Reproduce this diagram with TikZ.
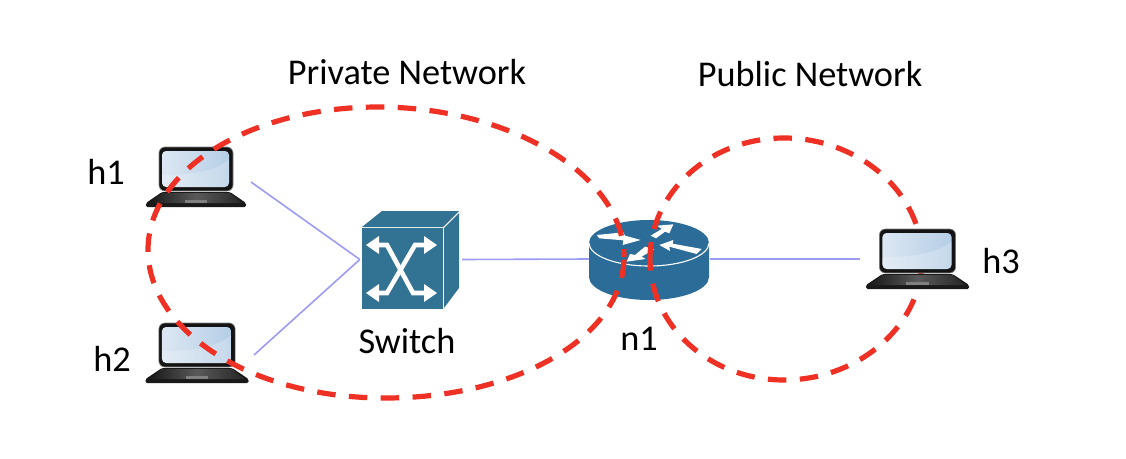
\documentclass[tikz,border=0pt]{standalone}
\usepackage{fontspec}
\setmainfont{Carlito}
\begin{document}
\begin{tikzpicture}[x=1pt,y=-1pt,
  netlabel/.style={font=\fontsize{36.3}{40}\selectfont,text=black,inner sep=0pt},
  link/.style={draw=linkblue,line width=1.6pt},
  ring/.style={draw=ringred,line width=5.2pt,dash pattern=on 18.5pt off 13.4pt},
  device/.style={inner sep=0pt,draw=none},
  switchfill/.style={fill=switchblue,draw=none},
  routerfill/.style={fill=routerblue,draw=none},
  whitefill/.style={fill=white,draw=none},
  laptop/.pic={
    \fill[black!90,rounded corners=1.5pt] (34,45) -- (-34,45) -- (-50,56) -- (-50,60) -- (50,60) -- (50,56) -- cycle;
    \shade[left color=black!90,right color=black!85,middle color=black!65] (-34,46) -- (34,46) -- (46,56) -- (-46,56) -- cycle;
    \fill[black!50] (-11,53) rectangle (11,56);
    \fill[black!92,rounded corners=6pt] (-37,0) rectangle (37,44);
    \draw[black!50,line width=.6pt,rounded corners=6pt] (-37,0) rectangle (37,44);
    \shade[left color=screenL,right color=screenR,rounded corners=4pt] (-34,4) rectangle (33,40);
    \fill[white,opacity=.22,rounded corners=2pt] (-34,28) .. controls (-5,28) and (20,24) .. (33,12) -- (33,37) -- (30,40) -- (-31,40) -- (-34,37) -- cycle;
  }]
\definecolor{linkblue}{HTML}{9C9CF5}
\definecolor{ringred}{HTML}{EE3124}
\definecolor{switchblue}{HTML}{327394}
\definecolor{routerblue}{HTML}{2B6C98}
\definecolor{screenL}{HTML}{DCE7F3}
\definecolor{screenR}{HTML}{B5CEE6}
\useasboundingbox (0,0) rectangle (1126,458);
\fill[white] (0,0) rectangle (1126,458);

% anchors of the devices
\node[device,minimum width=100pt,minimum height=60pt] (h1) at (196,177) {};
\node[device,minimum width=102pt,minimum height=60pt] (h2) at (197,354) {};
\node[device,minimum width=109pt,minimum height=62pt] (h3) at (914.5,259) {};
\node[device,minimum width=102pt,minimum height=100pt] (switch) at (411,259.5) {};
\node[device,minimum width=121pt,minimum height=80pt] (router) at (649.5,259) {};
\coordinate (h1port) at (251,182);
\coordinate (h2port) at (254,355);

% connectors
\draw[link] (h1port) -- (switch.west);
\draw[link] (h2port) -- (switch.west);
\draw[link] (switch.east) -- (router.west);
\draw[link] (router.east) -- (h3.west);

% switch
\fill[switchfill] (362,227) -- (382,211) -- (459,211) -- (443,227) -- cycle;
\fill[switchfill] (444,228) -- (459,213) -- (459,288) -- (444,308) -- cycle;
\fill[switchfill] (362,228) rectangle (443,309);
\draw[white,line width=4.6pt] (372,245) -- (387,245) -- (413,293) -- (425,293);
\draw[white,line width=4.6pt] (372,293) -- (387,293) -- (415,245) -- (425,245);
\fill[whitefill] (366,245) -- (379,236) -- (379,254) -- cycle;
\fill[whitefill] (366,293) -- (379,284) -- (379,302) -- cycle;
\fill[whitefill] (437,245) -- (424,236) -- (424,254) -- cycle;
\fill[whitefill] (437,293) -- (424,284) -- (424,302) -- cycle;

% router
\fill[routerfill] (589,243) -- (589,277) arc[start angle=180,end angle=360,x radius=60pt,y radius=23pt] -- (709,243) arc[start angle=0,end angle=180,x radius=60pt,y radius=23pt] -- cycle;
\draw[white,line width=1.1pt] (589,243) arc[start angle=180,end angle=360,x radius=60pt,y radius=23pt];
\begin{scope}[shift={(580,205)},x=.3333pt,y=-.3333pt]
  \fill[whitefill] (50,90) -- (130,82) -- (135,92) -- (182,105) -- (128,120) -- (130,106) -- (58,100) -- cycle;
  \fill[whitefill] (212,92) -- (245,72) -- (232,62) -- (280,58) -- (268,85) -- (255,80) -- (228,100) -- cycle;
  \fill[whitefill] (238,120) -- (280,105) -- (278,116) -- (365,132) -- (350,147) -- (268,125) -- (270,138) -- cycle;
  \fill[whitefill] (140,170) -- (150,147) -- (165,150) -- (195,125) -- (222,133) -- (185,155) -- (197,162) -- cycle;
\end{scope}

% public ring runs over the router, behind the laptop h3
\draw[ring,dash phase=1.5pt] (650,259) .. controls (650,192) and (710,138) .. (784,138)
  .. controls (858,138) and (922,192) .. (922,259)
  .. controls (922,326) and (858,380) .. (784,380)
  .. controls (710,380) and (650,326) .. (650,259);

% laptops
\pic at (196,147) {laptop};
\pic[xscale=1.03] at (197,323) {laptop};
\pic[xscale=1.03] at (917.5,229) {laptop};

% private ring runs over h1 and h2
\draw[ring,dash phase=10.5pt] (624,257) .. controls (624,175) and (510,107) .. (378,107)
  .. controls (250,107) and (148,170) .. (148,250)
  .. controls (148,330) and (250,398) .. (385,398)
  .. controls (520,398) and (624,335) .. (624,257);

% labels
\node[netlabel] (lpriv) at (407,72) {Private Network};
\node[netlabel] (lpub) at (810,74) {Public Network};
\node[netlabel] (lh1) at (106,172) {h1};
\node[netlabel] (lh2) at (112,359) {h2};
\node[netlabel] (lh3) at (1001,261) {h3};
\node[netlabel] (lsw) at (407,341) {Switch};
\node[netlabel] (ln1) at (639,339) {n1};
\end{tikzpicture}
\end{document}
